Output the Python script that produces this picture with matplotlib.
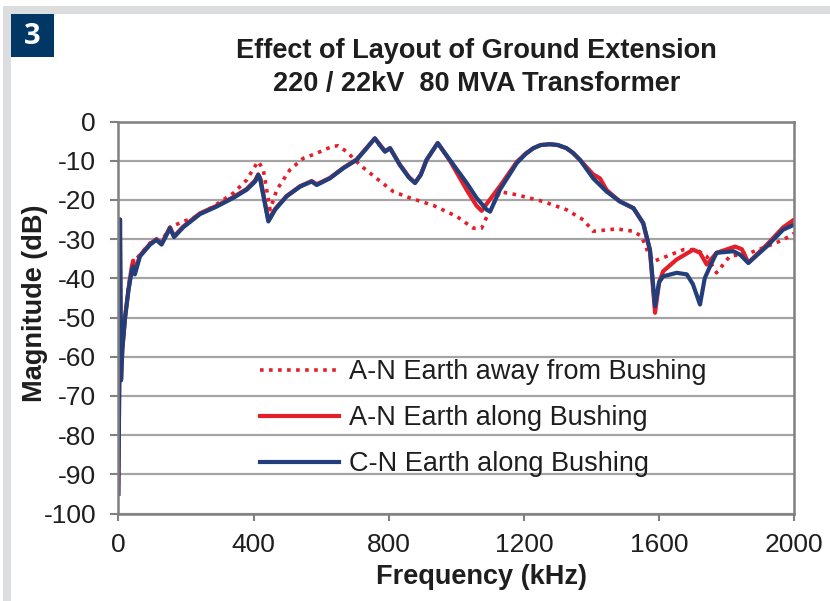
import matplotlib
matplotlib.use("Agg")
import matplotlib.pyplot as plt
from matplotlib.patches import Rectangle

plt.rcParams['font.family'] = ['Liberation Sans', 'DejaVu Sans']
plt.rcParams['axes.unicode_minus'] = False

# ---------------- data ----------------
away_f = [0, 3, 5, 8, 12, 20, 30, 40, 44, 64, 94, 128, 153, 192, 222, 281, 340, 380, 400,
          414, 429, 449, 469, 508, 547, 587, 615, 636, 650, 676, 715, 764, 814, 863, 932, 976,
          1001, 1050, 1075, 1095, 1129, 1179, 1257, 1326, 1376, 1405, 1474, 1524, 1548,
          1568, 1583, 1622, 1672, 1711, 1741, 1770, 1809, 1869, 1918, 1967, 2000]
away_db = [-95, -65, -25, -66, -58, -50, -42, -37, -36, -34, -31, -30.5, -27, -25.5, -24.6,
           -21.7, -18.3, -14.9, -12, -10.2, -12.3, -22.5, -17.4, -12.3, -9.4, -8.1, -7.0, -6.3,
           -6.2, -7.7, -11.1, -14.5, -17.9, -19.5, -21.4, -23.2, -24.2, -27.2, -27.2, -23.4,
           -17.9, -18.7, -20.4, -22.5, -25.1, -28, -27.4, -28, -29.3, -33.5, -35.7, -34.4,
           -32.7, -32.7, -34.4, -38.6, -34.4, -33.5, -31.9, -30.2, -28.5]

an_f = [0, 3, 5, 8, 12, 20, 30, 40, 44, 49, 64, 94, 113, 128, 153, 165, 192, 242, 291, 340,
        380, 405, 414, 420, 444, 464, 498, 538, 572, 587, 626, 666, 705, 735, 759, 775, 789,
        804, 833, 860, 878, 895, 912, 945, 981, 1031, 1060, 1075, 1090, 1129, 1179, 1205, 1228,
        1250, 1277, 1300, 1326, 1345, 1366, 1405, 1425, 1445, 1484, 1524, 1553, 1573, 1588,
        1600, 1612, 1652, 1701, 1721, 1741, 1770, 1825, 1845, 1864, 1918, 1967, 2000]
an_db = [-95, -65, -25, -66, -58, -50, -43, -37, -35.5, -38.5, -34.2, -31.2, -30, -31.2, -27,
         -29.3, -26.8, -23.4, -21.5, -19.3, -17.2, -15, -13.5, -14.5, -25.2, -22.3, -19, -16.5,
         -15.2, -16, -14.4, -11.8, -9.7, -6.7, -4.3, -6, -7.6, -6.8, -11, -14.2, -15.6, -13.5,
         -9.8, -5.5, -10, -17.5, -21.5, -22.8, -21, -16.5, -10.3, -8.2, -6.8, -6.0, -5.8, -6.0,
         -6.8, -8.0, -9.8, -13.5, -14.5, -17.5, -20.4, -22.1, -26, -33, -48.8, -41, -38.2,
         -35.2, -32.7, -33.5, -36.5, -33.5, -31.9, -32.6, -36, -31.5, -27, -25]

cn_f = [0, 3, 5, 8, 12, 20, 30, 40, 44, 49, 64, 94, 113, 128, 153, 165, 192, 242, 291, 340,
        380, 405, 414, 420, 444, 464, 498, 538, 572, 587, 626, 666, 705, 735, 759, 775, 789,
        804, 833, 860, 878, 895, 912, 945, 981, 1031, 1060, 1090, 1100, 1129, 1179, 1205, 1228,
        1250, 1277, 1300, 1326, 1345, 1366, 1405, 1445, 1484, 1524, 1553, 1573, 1588, 1600,
        1612, 1652, 1682, 1700, 1721, 1735, 1751, 1770, 1820, 1840, 1864, 1918, 1967, 2000]
cn_db = [-95, -65, -25, -66, -58, -50, -43, -38, -37, -39, -34.4, -31.4, -30.2, -31.4, -27.2,
         -29.5, -27, -23.6, -21.7, -19.5, -17.4, -15.3, -13.6, -14.8, -25.5, -22.5, -19.1,
         -16.6, -15.3, -16.2, -14.5, -11.9, -9.8, -6.8, -4.3, -6.2, -7.7, -6.8, -11.1, -14.3,
         -15.7, -13.6, -9.8, -5.5, -9.8, -15.7, -19.5, -22.5, -23, -17.4, -10.6, -8.3, -6.8,
         -6.0, -5.8, -6.0, -6.8, -8.0, -9.8, -14.5, -17.9, -20.4, -22.1, -25.9, -32.7, -47.1,
         -41, -39.5, -38.6, -39, -41.5, -46.7, -40, -36.9, -33.5, -33.1, -34, -36.1, -31.9,
         -27.6, -26.3]

labels = ["A-N Earth away from Bushing", "A-N Earth along Bushing", "C-N Earth along Bushing"]
x_ticks = [0, 400, 800, 1200, 1600, 2000]
y_ticks = [0, -10, -20, -30, -40, -50, -60, -70, -80, -90, -100]
title1 = "Effect of Layout of Ground Extension"
title2 = "220 / 22kV  80 MVA Transformer"

# ---------------- figure ----------------
W, H = 830, 601
fig = plt.figure(figsize=(W / 100, H / 100), dpi=100)
fig.patch.set_facecolor('white')

def fx(px):
    return px / W

def fy(py):
    return 1 - py / H

# gray frame
frame_col = '#dcdddf'
fig.add_artist(Rectangle((fx(3), fy(14)), 1 - fx(3), (14 - 6) / H, transform=fig.transFigure,
                         facecolor=frame_col, edgecolor='none'))
fig.add_artist(Rectangle((fx(3), 0), (11 - 3) / W, fy(6), transform=fig.transFigure,
                         facecolor=frame_col, edgecolor='none'))
# badge
fig.add_artist(Rectangle((fx(11), fy(57)), (54 - 11) / W, (57 - 14) / H, transform=fig.transFigure,
                         facecolor='#003764', edgecolor='none'))
fig.text(fx(32.5), fy(36), "3", color='white', fontsize=21, fontweight='bold',
         family=['Open Sans', 'DejaVu Sans'], ha='center', va='center')

ax_l, ax_r, ax_t, ax_b = 118.3, 794.3, 121.5, 513.5
ax = fig.add_axes([fx(ax_l), fy(ax_b), (ax_r - ax_l) / W, (ax_b - ax_t) / H])

grid_col = '#a4a4a4'
spine_col = '#808080'
red = '#e3202a'
blue = '#233f7b'
txt = '#1e1e1e'

ax.set_xlim(0, 2000)
ax.set_ylim(-100, 0)
ax.set_xticks(x_ticks)
ax.set_yticks(y_ticks)
ax.yaxis.grid(True, color=grid_col, lw=1.6)
ax.set_axisbelow(True)
for s in ax.spines.values():
    s.set_color(spine_col)
    s.set_linewidth(1.8)
ax.tick_params(axis='both', colors=spine_col, labelcolor=txt, labelsize=19, width=1.5)
ax.tick_params(axis='y', length=6, pad=10)
ax.tick_params(axis='x', length=5, pad=9)

l1, = ax.plot(away_f, away_db, color=red, lw=2.6, linestyle=(0, (1, 1.5)))
l2, = ax.plot(an_f, an_db, color=red, lw=3.0, solid_joinstyle='round')
l3, = ax.plot(cn_f, cn_db, color=blue, lw=3.0, solid_joinstyle='round')

leg = ax.legend([l1, l2, l3], labels, loc='upper left',
                bbox_to_anchor=(fx(260), fy(359)), bbox_transform=fig.transFigure,
                frameon=False, fontsize=19.5, handlelength=2.9, handletextpad=0.37,
                labelspacing=0.74, borderpad=0, borderaxespad=0)
for t in leg.get_texts():
    t.set_color(txt)

fig.text(fx(476), fy(51), title1, fontsize=19.5, fontweight='bold', color=txt,
         ha='center', va='center')
fig.text(fx(477), fy(84), title2, fontsize=19.5, fontweight='bold', color=txt,
         ha='center', va='center')
fig.text(fx(481), fy(577), "Frequency (kHz)", fontsize=19.5, fontweight='bold', color=txt,
         ha='center', va='center')
fig.text(fx(35), fy(303), "Magnitude (dB)", fontsize=19.5, fontweight='bold', color=txt,
         ha='center', va='center', rotation=90)

fig.savefig('out.png', dpi=100)
